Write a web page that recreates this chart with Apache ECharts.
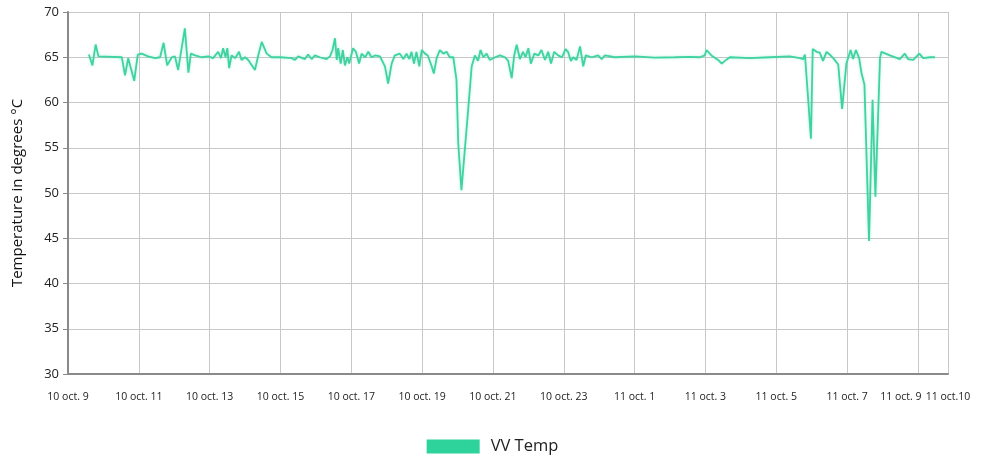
<!DOCTYPE html>
<html>
<head>
<meta charset="utf-8">
<title>VV Temp</title>
<script src="https://cdn.jsdelivr.net/npm/echarts@6/dist/echarts.min.js"></script>
<style>
    html, body { margin: 0; padding: 0; background: #fff; }
</style>
</head>
<body>
<div style="width:985px;height:464px;" id="temp_con"></div>
<script>
    // hours since 10 oct. 9:00
    var hours = [0.59, 0.69, 0.78, 0.86, 1.52, 1.61, 1.70, 1.87, 1.97, 2.08, 2.26, 2.46, 2.60, 2.70, 2.80, 2.93, 3.02, 3.11, 3.30, 3.40,
        3.47, 3.59, 3.77, 3.96, 4.10, 4.24, 4.32, 4.38, 4.45, 4.50, 4.55, 4.62, 4.72, 4.83, 4.90, 5.00, 5.09, 5.28, 5.36, 5.47,
        5.61, 5.75, 5.99, 6.32, 6.41, 6.50, 6.69, 6.78, 6.88, 6.97, 7.11, 7.30, 7.40, 7.47, 7.54, 7.59, 7.63, 7.70, 7.76, 7.82,
        7.89, 7.94, 8.05, 8.13, 8.22, 8.29, 8.39, 8.48, 8.57, 8.67, 8.81, 8.95, 9.04, 9.14, 9.23, 9.37, 9.47, 9.56, 9.64, 9.70,
        9.77, 9.84, 9.92, 9.99, 10.08, 10.16, 10.27, 10.33, 10.41, 10.50, 10.60, 10.69, 10.78, 10.88, 10.97, 11.02, 11.11, 11.30, 11.40, 11.49,
        11.58, 11.65, 11.73, 11.82, 11.91, 12.06, 12.20, 12.34, 12.43, 12.53, 12.60, 12.67, 12.76, 12.85, 12.92, 13.00, 13.07, 13.17, 13.28, 13.37,
        13.47, 13.56, 13.64, 13.73, 13.84, 13.95, 14.05, 14.12, 14.20, 14.27, 14.36, 14.46, 14.55, 14.62, 14.79, 14.97, 15.07, 15.16, 15.44, 16.01,
        16.57, 17.14, 17.56, 17.84, 17.98, 18.03, 18.17, 18.36, 18.46, 18.55, 18.69, 19.26, 19.82, 20.38, 20.67, 20.76, 20.81, 20.89, 20.98, 21.03,
        21.14, 21.23, 21.32, 21.42, 21.51, 21.61, 21.75, 21.86, 21.98, 22.10, 22.17, 22.25, 22.34, 22.41, 22.49, 22.62, 22.72, 22.80, 22.93, 22.97,
        23.21, 23.49, 23.63, 23.72, 23.87, 24.04, 24.15, 24.34, 24.48];
    var temps = [65.3, 64.1, 66.4, 65.1, 65.0, 63.0, 64.9, 62.4, 65.3, 65.4, 65.1, 64.9, 65.0, 66.6, 64.1, 65.0, 65.1, 63.6, 68.2, 63.3,
        65.4, 65.2, 65.0, 65.1, 64.9, 65.6, 64.9, 66.0, 65.0, 66.0, 63.8, 65.2, 64.9, 65.6, 64.7, 65.0, 64.7, 63.6, 65.0, 66.7,
        65.4, 65.0, 65.0, 64.9, 64.7, 65.1, 64.8, 65.3, 64.8, 65.2, 65.0, 64.8, 65.1, 65.8, 67.1, 64.7, 66.0, 64.3, 65.8, 64.1,
        65.0, 64.3, 66.0, 65.6, 64.3, 65.4, 65.0, 65.6, 65.0, 65.2, 65.1, 64.0, 62.1, 64.3, 65.2, 65.4, 64.8, 65.4, 64.8, 65.6,
        64.3, 65.6, 64.0, 65.8, 65.4, 65.2, 64.0, 63.2, 64.9, 65.8, 65.4, 65.6, 65.0, 65.0, 62.5, 55.5, 50.3, 59.2, 64.0, 65.2,
        64.6, 65.8, 65.0, 65.4, 64.7, 65.0, 65.2, 65.0, 64.6, 62.7, 65.2, 66.4, 64.8, 65.6, 65.0, 66.0, 64.3, 65.4, 65.2, 65.8,
        64.7, 65.6, 64.3, 65.6, 65.2, 65.0, 65.9, 65.6, 64.6, 65.0, 64.7, 66.2, 64.0, 65.2, 65.0, 65.2, 64.8, 65.2, 65.0, 65.1,
        64.95, 65.0, 65.05, 65.0, 65.2, 65.8, 65.2, 64.7, 64.3, 64.6, 65.0, 64.9, 65.0, 65.1, 64.9, 64.8, 65.3, 61.0, 56.0, 65.9,
        65.6, 65.5, 64.6, 65.6, 65.3, 64.9, 64.2, 59.3, 64.3, 65.8, 64.8, 65.8, 64.9, 63.2, 62.0, 44.7, 60.3, 49.6, 64.9, 65.6,
        65.2, 64.8, 65.4, 64.8, 64.7, 65.4, 64.9, 65.0, 65.0];

    // one label every 2 hours, plus the end of the axis
    var xLabels = ['10 oct. 9', '10 oct. 11', '10 oct. 13', '10 oct. 15', '10 oct. 17', '10 oct. 19', '10 oct. 21',
        '10 oct. 23', '11 oct. 1', '11 oct. 3', '11 oct. 5', '11 oct. 7', '11 oct. 9'];
    var xEndLabel = '11 oct.10';
    var xEnd = 24.85;

    var seriesData = hours.map(function (h, i) {
        return [h, temps[i]];
    });

    var option = {
        animation: false,
        textStyle: { fontFamily: 'Open Sans' },
        legend: {
            bottom: 4,
            left: 'center',
            icon: 'rect',
            itemWidth: 53,
            itemHeight: 14,
            textStyle: { fontSize: 16.5, color: '#222', padding: [0, 0, 0, 6] },
            data: ['VV Temp']
        },
        grid: {
            left: 68,
            right: 37,
            top: 12,
            bottom: 90
        },
        xAxis: {
            type: 'value',
            min: 0,
            max: xEnd,
            interval: 2,
            axisLine: { lineStyle: { color: '#8a8a8a', width: 2 } },
            axisTick: { show: false },
            splitLine: { show: true, lineStyle: { color: '#c8c8c8' } },
            axisLabel: {
                color: '#222',
                fontSize: 10.5,
                margin: 18,
                showMaxLabel: true,
                formatter: function (v) {
                    if (v === xEnd) return xEndLabel;
                    var lab = xLabels[Math.round(v / 2)];
                    if (v === 24) return '{l|' + lab + '}';
                    return lab;
                },
                rich: {
                    l: { fontSize: 10.5, color: '#222', padding: [0, 34, 0, 0] }
                }
            }
        },
        yAxis: {
            type: 'value',
            min: 30,
            max: 70,
            interval: 5,
            name: 'Temperature in degrees °C',
            nameLocation: 'middle',
            nameGap: 43,
            nameTextStyle: { fontSize: 15, color: '#111' },
            axisLine: { show: true, lineStyle: { color: '#8a8a8a', width: 2 } },
            axisTick: { show: true, length: 5, lineStyle: { color: '#8a8a8a' } },
            splitLine: { lineStyle: { color: '#c8c8c8' } },
            axisLabel: { color: '#222', fontSize: 13, margin: 9 }
        },
        series: [
            {
                name: 'VV Temp',
                type: 'line',
                showSymbol: false,
                color: '#2ed39b',
                lineStyle: {
                    width: 1.8,
                    color: '#3fd3a2',
                    shadowColor: 'rgba(46,211,155,0.35)',
                    shadowBlur: 3
                },
                data: seriesData
            }
        ]
    };

    var tempChart = echarts.init(document.getElementById('temp_con'));
    tempChart.setOption(option);

    window.addEventListener('resize', function () {
        tempChart.resize();
    });
</script>
</body>
</html>
